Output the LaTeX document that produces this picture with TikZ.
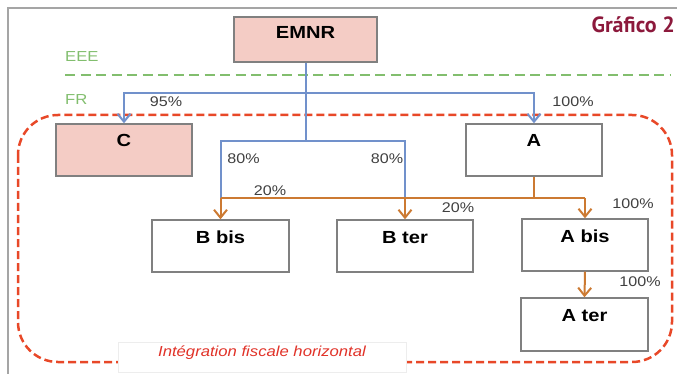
\documentclass[tikz,border=0pt]{standalone}
\usepackage{fontspec}
\setmainfont{Liberation Sans}
\newfontfamily\af[FakeStretch=1.15]{Liberation Sans}
\newfontfamily\gf{PT Sans}
\usetikzlibrary{arrows.meta}
\definecolor{pinkfill}{RGB}{244,204,197}
\definecolor{boxgrey}{RGB}{128,128,128}
\definecolor{lineblue}{RGB}{113,145,203}
\definecolor{lineorange}{RGB}{204,122,50}
\definecolor{reddash}{RGB}{232,72,40}
\definecolor{greentext}{RGB}{130,190,110}
\definecolor{pcttext}{RGB}{64,64,64}
\definecolor{grafred}{RGB}{140,25,60}
\definecolor{framegrey}{RGB}{165,165,165}
\definecolor{italred}{RGB}{225,50,40}
\tikzset{
  entity/.style={draw=boxgrey, line width=1.4pt, fill=white, inner sep=0pt,
    font=\af\bfseries\fontsize{17.5}{20}\selectfont, text=black,
    text height=12.5pt, text depth=18.5pt},
  pinkbox/.style={entity, fill=pinkfill},
  pct/.style={font=\af\fontsize{14}{16}\selectfont, text=pcttext, inner sep=0pt, anchor=base},
  zone/.style={font=\af\fontsize{14.5}{16}\selectfont, text=greentext, inner sep=0pt, anchor=base west},
  bluelink/.style={draw=lineblue, line width=2pt},
  orangelink/.style={draw=lineorange, line width=2pt},
  tip/.style={-{Straight Barb[length=8pt,width=13pt]}},
}
\begin{document}
\begin{tikzpicture}[x=1pt,y=-1pt]
\useasboundingbox (0,0) rectangle (677,374);
% frame
\draw[framegrey, line width=1.5pt] (677,8) -- (8,8) -- (8,374);
% title
\node[font=\gf\bfseries\fontsize{22}{24}\selectfont, text=grafred, inner sep=0pt, anchor=base east] (title) at (675,33) {Gráfico 2};
% zone line
\draw[greentext, line width=2.5pt, dash pattern=on 10pt off 5.5pt] (65,75) -- (670,75);
\node[zone] (eee) at (65,62) {EEE};
\node[zone] (fr) at (65,105) {FR};
% red dashed group
\draw[reddash, line width=2.5pt, dash pattern=on 8pt off 4pt, rounded corners=40pt] (18,115) rectangle (672,362);
\node[draw=black!7, line width=0.8pt, fill=white, minimum width=288pt, minimum height=30pt, inner sep=0pt,
      font=\af\itshape\fontsize{14.5}{16}\selectfont, text=italred, text height=10pt, text depth=11pt] (grp) at (262,357) {Intégration fiscale horizontal};
% boxes
\node[pinkbox, minimum width=143pt, minimum height=45pt, text depth=13.5pt] (emnr) at (305.5,39.5) {EMNR};
\node[pinkbox, minimum width=136pt, minimum height=52pt] (c) at (124,150) {C};
\node[entity, minimum width=136pt, minimum height=52pt] (a) at (534,150) {A};
\node[entity, minimum width=137pt, minimum height=52pt] (bbis) at (220.5,246) {B bis};
\node[entity, minimum width=136pt, minimum height=52pt] (bter) at (405,246) {B ter};
\node[entity, minimum width=126pt, minimum height=52pt] (abis) at (585,245) {A bis};
\node[entity, minimum width=127pt, minimum height=53pt] (ater) at (584.5,324.5) {A ter};
% junctions
\coordinate (j1) at (305.5,93);
\coordinate (j2) at (305.5,141);
\coordinate (u1) at (220.5,198);
\coordinate (u2) at (405,198);
\coordinate (o1) at (534,198);
\coordinate (o2) at (585,198);
% blue links
\draw[bluelink] (emnr.south) -- (j2);
\draw[bluelink, tip] (j1) -| (c.north);
\draw[bluelink, tip] (j1) -| (a.north);
\draw[bluelink] (u1) |- (j2) -| (u2);
% orange links
\draw[orangelink] (a.south) -- (o1);
\draw[orangelink, line join=round] (u1) -- (o2);
\draw[orangelink, tip] (u1) -- (bbis.north);
\draw[orangelink, tip] (u2) -- (bter.north);
\draw[orangelink, tip] (o2) -- (abis.north);
\draw[orangelink, tip] (abis.south) -- (ater.north);
% percentages
\node[pct] (p95) at (166,107) {95\%};
\node[pct] (p100a) at (573,107) {100\%};
\node[pct] (p80a) at (243.5,164) {80\%};
\node[pct] (p80b) at (387,164) {80\%};
\node[pct] (p20a) at (270,196) {20\%};
\node[pct] (p20b) at (458,212) {20\%};
\node[pct] (p100b) at (633,208) {100\%};
\node[pct] (p100c) at (640,286) {100\%};
\end{tikzpicture}
\end{document}
